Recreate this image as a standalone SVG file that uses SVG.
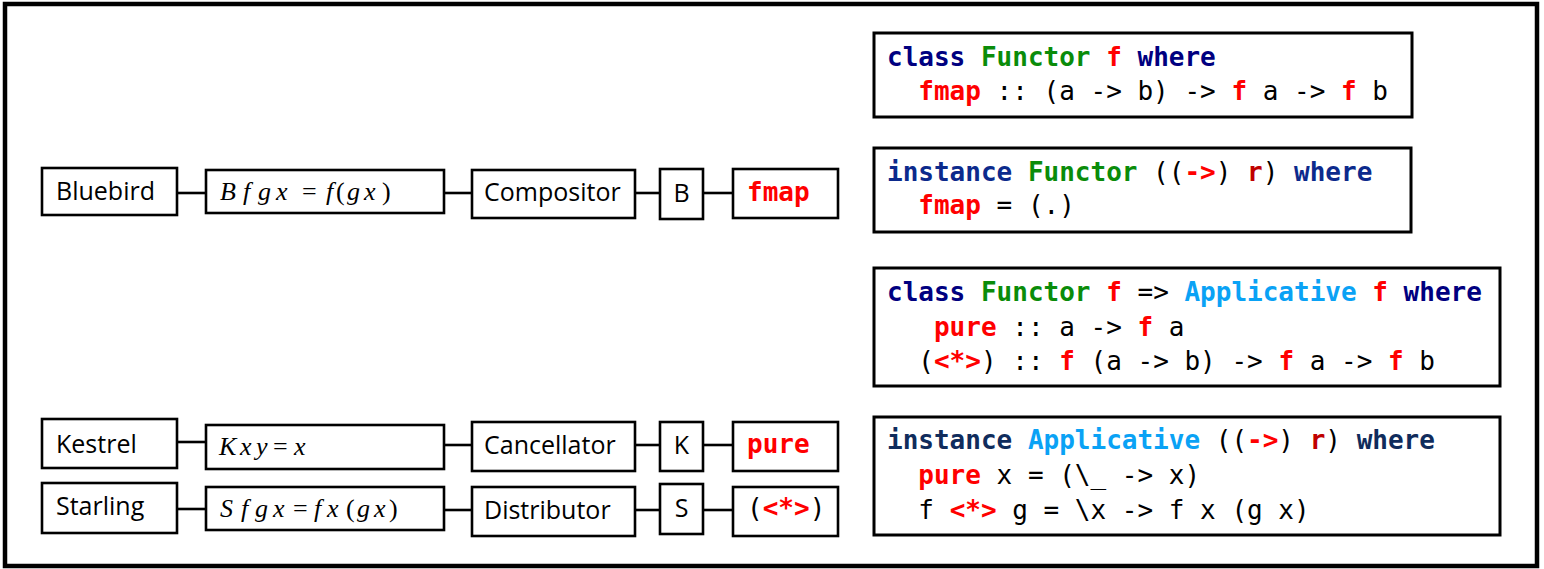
<svg xmlns="http://www.w3.org/2000/svg" width="1544" height="569" viewBox="0 0 1544 569">
  <style>
    .frame { fill: #fff; stroke: #000; stroke-width: 4.5; }
    .box { fill: #fff; stroke: #000; stroke-width: 2.6; }
    .codebox { fill: #fff; stroke: #000; stroke-width: 3; }
    .wire { stroke: #000; stroke-width: 2.6; fill: none; }
    .label { font-family: "Open Sans", "Liberation Sans", sans-serif; font-size: 25px; fill: #000; }
    .math { font-family: "Liberation Serif", "DejaVu Serif", serif; font-size: 26px; font-style: italic; fill: #000; }
    .up { font-style: normal; }
    .code { font-family: "DejaVu Sans Mono", "Liberation Mono", monospace; font-size: 26px; fill: #000; white-space: pre; }
    .kw { fill: #000080; font-weight: bold; }
    .kw2 { fill: #0c2a8c; font-weight: bold; }
    .kw4 { fill: #102c5c; font-weight: bold; }
    .cls { fill: #0a8c0a; font-weight: bold; }
    .app { fill: #0aa2f5; font-weight: bold; }
    .red { fill: #ff0000; font-weight: bold; }
    .dr { fill: #c00000; font-weight: bold; }
  </style>

  <rect class="frame" x="5" y="4" width="1532" height="562"/>

  <!-- connectors -->
  <g id="connectors">
    <line class="wire" x1="177" y1="193" x2="206" y2="193"/>
    <line class="wire" x1="444" y1="193" x2="472" y2="193"/>
    <line class="wire" x1="635" y1="193" x2="660" y2="193"/>
    <line class="wire" x1="703" y1="193" x2="733" y2="193"/>

    <line class="wire" x1="177" y1="442" x2="206" y2="442"/>
    <line class="wire" x1="444" y1="445" x2="472" y2="445"/>
    <line class="wire" x1="635" y1="445" x2="660" y2="445"/>
    <line class="wire" x1="703" y1="445" x2="733" y2="445"/>

    <line class="wire" x1="177" y1="509" x2="206" y2="509"/>
    <line class="wire" x1="444" y1="510" x2="472" y2="510"/>
    <line class="wire" x1="635" y1="510" x2="660" y2="510"/>
    <line class="wire" x1="703" y1="510" x2="733" y2="510"/>
  </g>

  <!-- Bluebird row -->
  <g id="bluebird">
    <rect class="box" x="42" y="168" width="135" height="47"/>
    <text class="label" x="56" y="200">Bluebird</text>
  </g>
  <g id="bluebird-def">
    <rect class="box" x="206" y="170" width="238" height="43"/>
    <text class="math" y="200"><tspan x="220">B</tspan><tspan x="243">f</tspan><tspan x="258">g</tspan><tspan x="276">x</tspan><tspan class="up" x="302">=</tspan><tspan x="326">f</tspan><tspan class="up" x="336">(</tspan><tspan x="347">g</tspan><tspan x="364">x</tspan><tspan class="up" x="382">)</tspan></text>
  </g>
  <g id="compositor">
    <rect class="box" x="472" y="170" width="163" height="48"/>
    <text class="label" x="484" y="201">Compositor</text>
  </g>
  <g id="b-combinator">
    <rect class="box" x="660" y="169" width="43" height="50"/>
    <text class="label" x="681.5" y="202" text-anchor="middle">B</text>
  </g>
  <g id="fmap">
    <rect class="box" x="733" y="169" width="105" height="49"/>
    <text class="code" x="747" y="201"><tspan class="red">fmap</tspan></text>
  </g>

  <!-- Kestrel row -->
  <g id="kestrel">
    <rect class="box" x="42" y="419" width="135" height="49"/>
    <text class="label" x="56" y="453">Kestrel</text>
  </g>
  <g id="kestrel-def">
    <rect class="box" x="206" y="425" width="238" height="44"/>
    <text class="math" y="455"><tspan x="219">K</tspan><tspan x="240">x</tspan><tspan x="256">y</tspan><tspan class="up" x="273">=</tspan><tspan x="294">x</tspan></text>
  </g>
  <g id="cancellator">
    <rect class="box" x="472" y="422" width="163" height="49"/>
    <text class="label" x="484" y="454">Cancellator</text>
  </g>
  <g id="k-combinator">
    <rect class="box" x="660" y="422" width="43" height="49"/>
    <text class="label" x="681.5" y="454" text-anchor="middle">K</text>
  </g>
  <g id="pure">
    <rect class="box" x="733" y="422" width="105" height="49"/>
    <text class="code" x="747" y="453"><tspan class="red">pure</tspan></text>
  </g>

  <!-- Starling row -->
  <g id="starling">
    <rect class="box" x="42" y="483" width="135" height="50"/>
    <text class="label" x="56" y="515">Starling</text>
  </g>
  <g id="starling-def">
    <rect class="box" x="206" y="487" width="238" height="43"/>
    <text class="math" y="517"><tspan x="220">S</tspan><tspan x="241">f</tspan><tspan x="255">g</tspan><tspan x="273">x</tspan><tspan class="up" x="293">=</tspan><tspan x="314">f</tspan><tspan x="327">x</tspan><tspan class="up" x="346">(</tspan><tspan x="357">g</tspan><tspan x="374">x</tspan><tspan class="up" x="389">)</tspan></text>
  </g>
  <g id="distributor">
    <rect class="box" x="472" y="487" width="163" height="49"/>
    <text class="label" x="484" y="519">Distributor</text>
  </g>
  <g id="s-combinator">
    <rect class="box" x="660" y="484" width="43" height="50"/>
    <text class="label" x="681.5" y="517" text-anchor="middle">S</text>
  </g>
  <g id="ap">
    <rect class="box" x="733" y="487" width="105" height="49"/>
    <text class="code" x="747" y="517" xml:space="preserve">(<tspan class="red">&lt;*&gt;</tspan>)</text>
  </g>

  <!-- Haskell definitions -->
  <g id="functor-class">
    <rect class="codebox" x="874" y="33" width="538" height="84"/>
    <text class="code" x="887" y="66" xml:space="preserve"><tspan class="kw">class</tspan> <tspan class="cls">Functor</tspan> <tspan class="red">f</tspan> <tspan class="kw">where</tspan></text>
    <text class="code" x="887" y="100" xml:space="preserve">  <tspan class="red">fmap</tspan> :: (a -&gt; b) -&gt; <tspan class="red">f</tspan> a -&gt; <tspan class="red">f</tspan> b</text>
  </g>
  <g id="functor-instance">
    <rect class="codebox" x="874" y="148" width="537" height="84"/>
    <text class="code" x="887" y="181" xml:space="preserve"><tspan class="kw2">instance</tspan> <tspan class="cls">Functor</tspan> ((<tspan class="red">-&gt;</tspan>) <tspan class="dr">r</tspan>) <tspan class="kw2">where</tspan></text>
    <text class="code" x="887" y="214" xml:space="preserve">  <tspan class="red">fmap</tspan> = (.)</text>
  </g>
  <g id="applicative-class">
    <rect class="codebox" x="874" y="268" width="626" height="118"/>
    <text class="code" x="887" y="301" xml:space="preserve"><tspan class="kw">class</tspan> <tspan class="cls">Functor</tspan> <tspan class="red">f</tspan> =&gt; <tspan class="app">Applicative</tspan> <tspan class="red">f</tspan> <tspan class="kw">where</tspan></text>
    <text class="code" x="887" y="336" xml:space="preserve">   <tspan class="red">pure</tspan> :: a -&gt; <tspan class="red">f</tspan> a</text>
    <text class="code" x="887" y="370" xml:space="preserve">  (<tspan class="red">&lt;*&gt;</tspan>) :: <tspan class="red">f</tspan> (a -&gt; b) -&gt; <tspan class="red">f</tspan> a -&gt; <tspan class="red">f</tspan> b</text>
  </g>
  <g id="applicative-instance">
    <rect class="codebox" x="874" y="417" width="626" height="118"/>
    <text class="code" x="887" y="449" xml:space="preserve"><tspan class="kw4">instance</tspan> <tspan class="app">Applicative</tspan> ((<tspan class="red">-&gt;</tspan>) <tspan class="dr">r</tspan>) <tspan class="kw4">where</tspan></text>
    <text class="code" x="887" y="484" xml:space="preserve">  <tspan class="red">pure</tspan> x = (\_ -&gt; x)</text>
    <text class="code" x="887" y="519" xml:space="preserve">  f <tspan class="red">&lt;*&gt;</tspan> g = \x -&gt; f x (g x)</text>
  </g>
</svg>
